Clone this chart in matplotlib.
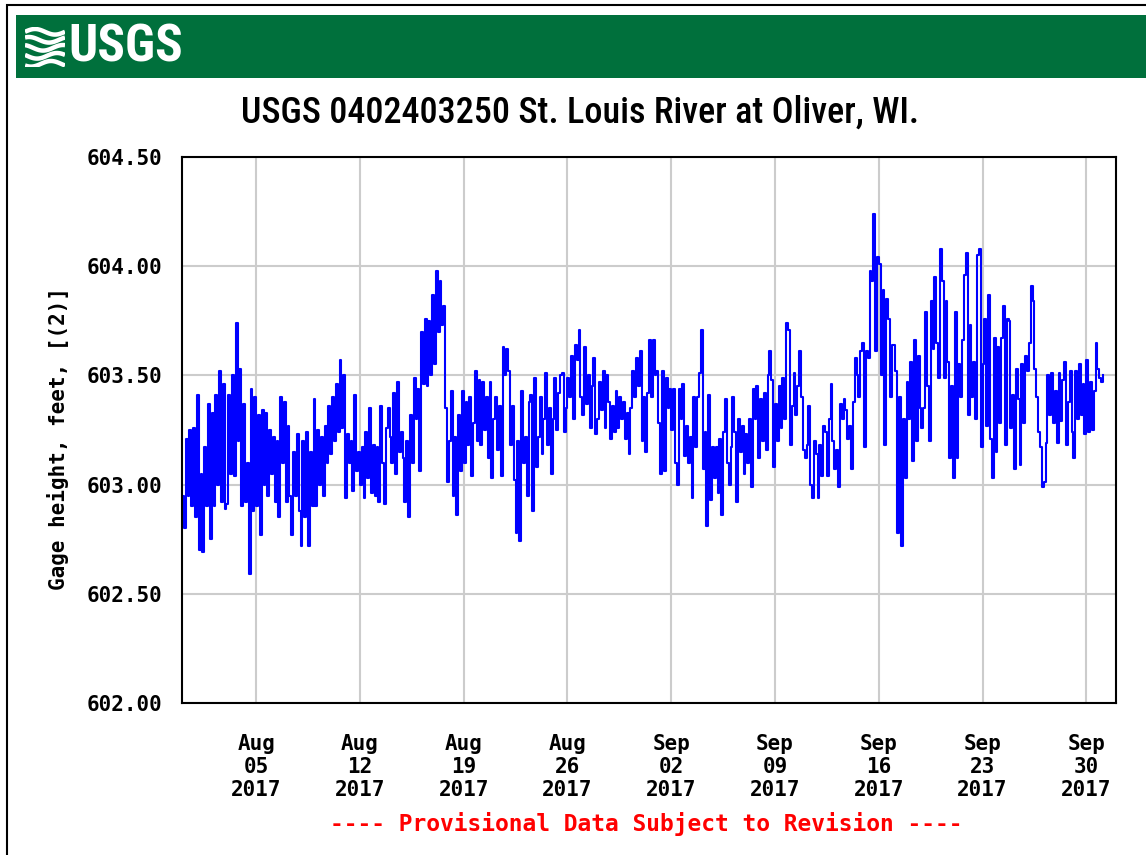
import numpy as np
import pandas as pd
import matplotlib
matplotlib.use('Agg')
import matplotlib.pyplot as plt
from matplotlib.patches import Rectangle

# gage height (ft), one reading every 3 hours, grouped by week (Mon-Sun)
wk_jul31 = [602.95, 602.80, 603.21, 602.95, 603.25, 602.90, 603.26, 602.85,
            603.41, 602.70, 603.05, 602.69, 603.17, 602.90, 603.37, 602.75,
            603.33, 602.90, 603.41, 603.00, 603.52, 602.92, 603.46, 602.89,
            602.91, 603.41, 603.05, 603.50, 603.04, 603.74, 603.20, 603.53,
            602.90, 603.37, 602.92, 603.10, 602.59, 603.44, 602.88, 603.40,
            602.90, 603.32, 602.77, 603.34, 603.00, 603.33, 602.95, 603.25,
            603.05, 603.22, 602.92, 603.20, 602.85, 603.40, 603.10, 603.38]
wk_aug07 = [602.92, 603.27, 602.95, 602.77, 603.15, 602.95, 603.23, 602.88,
            602.72, 603.20, 602.85, 603.24, 602.72, 603.15, 602.90, 603.39,
            602.90, 603.25, 603.00, 603.22, 602.95, 603.27, 603.10, 603.36,
            603.14, 603.40, 603.20, 603.46, 603.24, 603.57, 603.26, 603.50,
            602.94, 603.23, 603.10, 603.20, 602.97, 603.41, 603.06, 603.15,
            603.00, 603.17, 602.94, 603.24, 603.03, 603.35, 602.96, 603.18,
            602.95, 603.17, 602.92, 603.36, 603.10, 602.91, 603.26, 603.35]
wk_aug14 = [603.22, 603.10, 603.42, 603.05, 603.47, 603.15, 603.24, 603.12,
            602.92, 603.20, 602.85, 603.32, 603.10, 603.49, 603.30, 603.44,
            603.06, 603.70, 603.46, 603.76, 603.45, 603.75, 603.50, 603.87,
            603.55, 603.98, 603.70, 603.93, 603.73, 603.82, 603.35, 603.01,
            603.20, 603.43, 602.95, 603.22, 602.86, 603.32, 603.06, 603.43,
            603.10, 603.38, 603.18, 603.40, 603.04, 603.28, 603.52, 603.20,
            603.48, 603.18, 603.47, 603.25, 603.40, 603.12, 603.47, 603.03]
wk_aug21 = [603.30, 603.40, 603.16, 603.36, 603.04, 603.63, 603.50, 603.62,
            603.52, 603.18, 603.36, 603.02, 602.78, 603.20, 602.74, 603.43,
            603.10, 603.22, 602.95, 603.38, 603.41, 602.88, 603.49, 603.08,
            603.22, 603.40, 603.14, 603.30, 603.51, 603.18, 603.35, 603.05,
            603.30, 603.49, 603.25, 603.42, 603.50, 603.51, 603.24, 603.35,
            603.49, 603.40, 603.59, 603.30, 603.64, 603.57, 603.71, 603.40,
            603.32, 603.63, 603.37, 603.50, 603.26, 603.45, 603.58, 603.23]
wk_aug28 = [603.30, 603.47, 603.34, 603.52, 603.26, 603.50, 603.38, 603.21,
            603.36, 603.24, 603.43, 603.26, 603.40, 603.30, 603.38, 603.21,
            603.33, 603.14, 603.35, 603.52, 603.40, 603.58, 603.45, 603.61,
            603.20, 603.40, 603.15, 603.42, 603.66, 603.40, 603.66, 603.50,
            603.52, 603.28, 603.05, 603.52, 603.06, 603.49, 603.35, 603.44,
            603.25, 603.44, 603.10, 603.00, 603.44, 603.30, 603.46, 603.13,
            603.27, 603.10, 603.22, 602.94, 603.40, 603.17, 603.40, 603.51]
wk_sep04 = [603.71, 603.07, 603.24, 602.81, 603.41, 602.93, 603.17, 603.03,
            603.17, 602.96, 603.21, 602.86, 603.24, 603.39, 603.10, 603.00,
            603.17, 603.40, 603.24, 602.92, 603.30, 603.15, 603.27, 603.05,
            603.23, 603.10, 603.30, 602.99, 603.44, 603.30, 603.45, 603.12,
            603.39, 603.20, 603.42, 603.16, 603.50, 603.61, 603.48, 603.08,
            603.37, 603.20, 603.45, 603.26, 603.49, 603.30, 603.74, 603.71,
            603.18, 603.36, 603.51, 603.32, 603.45, 603.61, 603.40, 603.16]
wk_sep11 = [603.12, 603.18, 603.36, 603.00, 602.94, 603.20, 603.14, 602.94,
            603.18, 603.04, 603.27, 603.24, 603.04, 603.30, 603.46, 603.20,
            603.07, 603.16, 602.99, 603.37, 603.30, 603.39, 603.34, 603.21,
            603.27, 603.07, 603.38, 603.58, 603.50, 603.40, 603.61, 603.65,
            603.17, 603.61, 603.58, 603.98, 603.93, 604.24, 603.61, 604.04,
            604.01, 603.50, 603.89, 603.18, 603.85, 603.76, 603.40, 603.64,
            603.64, 603.52, 602.78, 603.40, 602.72, 603.30, 603.03, 603.47]
wk_sep18 = [603.30, 603.56, 603.11, 603.66, 603.20, 603.59, 603.35, 603.26,
            603.35, 603.79, 603.45, 603.20, 603.84, 603.62, 603.95, 603.65,
            603.49, 604.08, 603.93, 603.49, 603.84, 603.56, 603.12, 603.45,
            603.03, 603.79, 603.12, 603.55, 603.40, 603.66, 603.96, 604.06,
            603.32, 603.73, 603.40, 603.56, 603.30, 604.05, 604.08, 603.17,
            603.55, 603.76, 603.27, 603.87, 603.21, 603.03, 603.67, 603.15,
            603.63, 603.28, 603.67, 603.82, 603.18, 603.76, 603.75, 603.26]
wk_sep25 = [603.41, 603.07, 603.53, 603.39, 603.09, 603.55, 603.28, 603.59,
            603.52, 603.65, 603.91, 603.84, 603.53, 603.40, 603.24, 603.17,
            602.99, 603.01, 603.19, 603.50, 603.32, 603.51, 603.28, 603.43,
            603.19, 603.51, 603.29, 603.48, 603.56, 603.18, 603.38, 603.52,
            603.24, 603.12, 603.52, 603.30, 603.55, 603.32, 603.46, 603.23,
            603.57, 603.24, 603.47, 603.25, 603.43, 603.65, 603.53, 603.49,
            603.47, 603.50]

y_ticks = [602.0, 602.5, 603.0, 603.5, 604.0, 604.5]
tick_dates = pd.date_range('2017-08-05', '2017-09-30', freq='7D')

gage = np.array(wk_jul31 + wk_aug07 + wk_aug14 + wk_aug21 + wk_aug28 +
                wk_sep04 + wk_sep11 + wk_sep18 + wk_sep25)
times = pd.date_range('2017-07-31 00:00', periods=len(gage), freq='3h')

W, H = 1146, 855
mono = dict(family='DejaVu Sans Mono', fontweight='bold', fontsize=15)
narrow = ['Roboto Condensed', 'Liberation Sans Narrow', 'Roboto', 'DejaVu Sans']

fig = plt.figure(figsize=(W / 100, H / 100), dpi=100)

# page border and green banner
fig.patches.append(Rectangle((7 / W, -0.5), 1.0, 1 - 5 / H + 0.5, transform=fig.transFigure,
                             fill=False, ec='black', lw=1.5, zorder=-2))
fig.patches.append(Rectangle((16 / W, 1 - 78 / H), 1.0, 63 / H, transform=fig.transFigure,
                             fc='#00703c', ec='none', zorder=-2))

# wave mark of the logo
ax_logo = fig.add_axes([25 / W, 1 - 67 / H, 40 / W, 40 / H])
ax_logo.set_zorder(3)
ax_logo.set_xlim(0, 1)
ax_logo.set_ylim(0, 1)
ax_logo.axis('off')
u = np.linspace(0, 1, 50)
for k, off in enumerate([0.88, 0.68, 0.48, 0.28, 0.08]):
    ax_logo.plot(u, off + 0.07 * np.sin(2 * np.pi * (u + 0.15 * k)), color='white', lw=3.2,
                 solid_capstyle='butt')
fig.text(68 / W, 1 - 47 / H, 'USGS', color='white', fontsize=37, fontweight='bold',
         family=narrow, ha='left', va='center')

fig.text(580 / W, 1 - 113 / H, 'USGS 0402403250 St. Louis River at Oliver, WI.',
         fontsize=26, fontweight='medium', family=narrow, ha='center', va='center')

ax = fig.add_axes([182 / W, 1 - 703 / H, 934 / W, 546 / H])
ax.plot(times, gage, color='#0000ff', lw=1.5, drawstyle='steps-post')

ax.set_ylim(602.0, 604.5)
ax.set_yticks(y_ticks)
ax.set_yticklabels(['%.2f' % v for v in y_ticks], **mono)
ax.set_xlim(pd.Timestamp('2017-07-31'), pd.Timestamp('2017-10-02'))
ax.set_xticks(tick_dates)
ax.set_xticklabels([d.strftime('%b\n%d\n%Y') for d in tick_dates], linespacing=1.2, **mono)
ax.tick_params(length=0)
ax.tick_params(axis='y', pad=14)
ax.tick_params(axis='x', pad=22)
ax.grid(color='#cccccc', lw=1.5)
ax.set_axisbelow(True)
for s in ax.spines.values():
    s.set_linewidth(1.5)
    s.set_color('black')

fig.text(58 / W, 1 - 438 / H, 'Gage height, feet, [(2)]', rotation=90,
         ha='center', va='center', **mono)
fig.text(646 / W, 1 - 824 / H, '---- Provisional Data Subject to Revision ----',
         color='#ff0000', ha='center', va='center',
         family='DejaVu Sans Mono', fontweight='bold', fontsize=16.5)

fig.savefig('out.png', dpi=100)
